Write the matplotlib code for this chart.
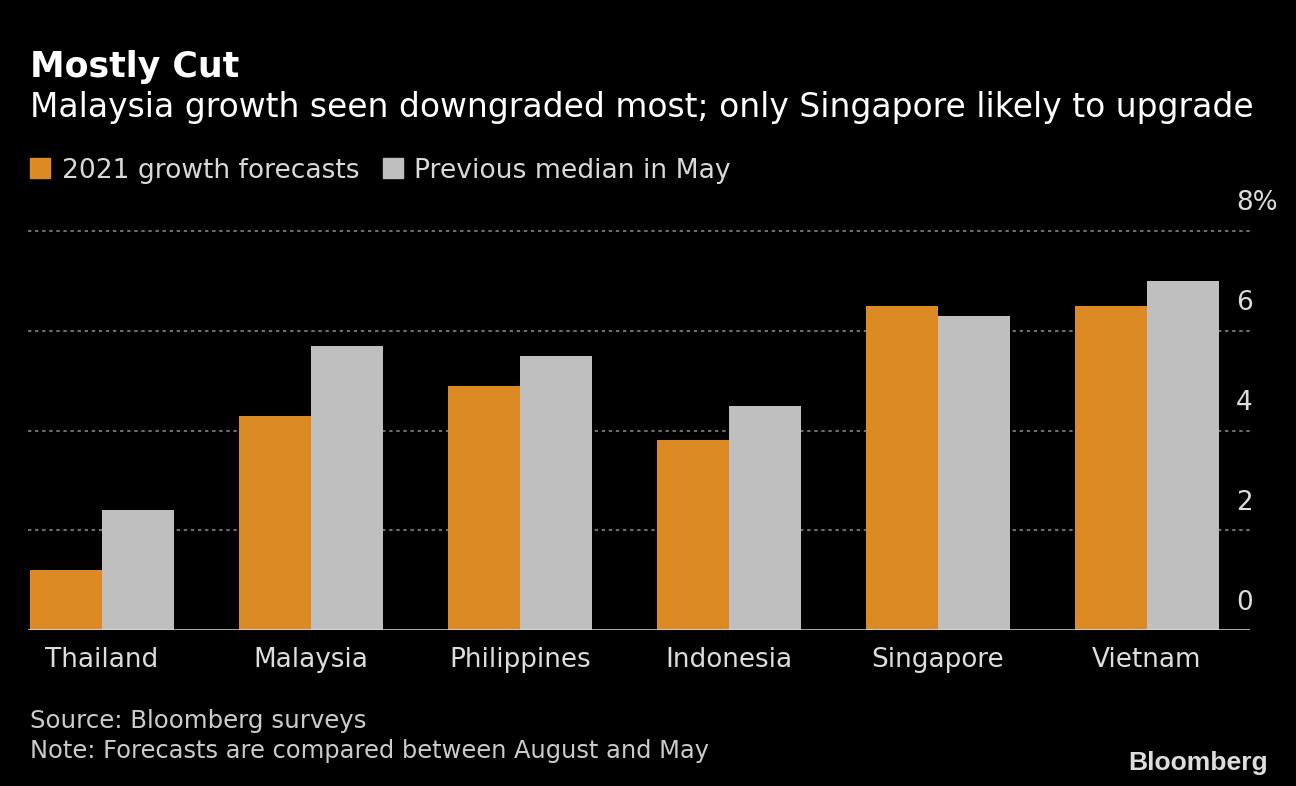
import matplotlib
matplotlib.use("Agg")
import matplotlib.pyplot as plt
from matplotlib.transforms import Affine2D
import numpy as np

countries = ["Thailand", "Malaysia", "Philippines", "Indonesia", "Singapore", "Vietnam"]
forecast_2021 = [1.2, 4.3, 4.9, 3.8, 6.5, 6.5]
previous_may = [2.4, 5.7, 5.5, 4.5, 6.3, 7.0]
y_ticks = [0, 2, 4, 6, 8]
y_tick_labels = ["0", "2", "4", "6", "8%"]

title = "Mostly Cut"
subtitle = "Malaysia growth seen downgraded most; only Singapore likely to upgrade"
legend_labels = ["2021 growth forecasts", "Previous median in May"]
source = "Source: Bloomberg surveys"
note = "Note: Forecasts are compared between August and May"

ORANGE = "#DB8A24"
GRAY = "#BFBFBF"
BG = "#000000"

W, H = 1296, 786
fig = plt.figure(figsize=(W / 100, H / 100), dpi=100, facecolor=BG)
FONT = "DejaVu Sans"

px = Affine2D().scale(1 / W, -1 / H).translate(0, 1) + fig.transFigure
renderer = fig.canvas.get_renderer()

def fit_text(x, y, s, target_w, size, ha="left", **kw):
    t = fig.text(x, y, s, transform=px, fontsize=size, family=FONT,
                 va="baseline", ha=ha, **kw)
    w = t.get_window_extent(renderer).width
    t.set_fontsize(size * target_w / w)
    return t

fit_text(30, 77, title, 210, 24, color="white", fontweight="bold")
fit_text(30, 117, subtitle, 1220, 20, color="white")
fig.patches.append(plt.Rectangle((30, 158), 20, 20, transform=px, color=ORANGE))
fit_text(62, 178, legend_labels[0], 298, 17, color="#d9d9d9")
fig.patches.append(plt.Rectangle((383, 158), 20, 20, transform=px, color=GRAY))
fit_text(414, 178, legend_labels[1], 317, 17, color="#d9d9d9")

fit_text(30, 728, source, 335, 16, color="#cccccc")
fit_text(30, 758, note, 680, 16, color="#cccccc")
t = fig.text(1268, 770, "Bloomberg", transform=px, fontsize=18, family="Liberation Sans",
             fontweight="bold", color="#dddddd", ha="right", va="baseline")
w = t.get_window_extent(renderer).width
t.set_fontsize(18 * 140 / w)

left, right, top, bottom = 28, 1250, 231, 630
ax = fig.add_axes([left / W, 1 - bottom / H, (right - left) / W, (bottom - top) / H])
ax.set_facecolor(BG)
x = np.arange(len(countries))
bw = 72 / 209
ax.bar(x - bw / 2, forecast_2021, width=bw, color=ORANGE, zorder=3)
ax.bar(x + bw / 2, previous_may, width=bw, color=GRAY, zorder=3)
ax.set_xlim(-74 / 209, 1148 / 209)
ax.set_ylim(0, 8)
for yv in y_ticks[1:]:
    ax.axhline(yv, color="#6e6e6e", lw=1.5, linestyle=(0, (1.6, 1.8)), zorder=1, clip_on=False)
ax.axhline(0, color="#dddddd", lw=1.8, zorder=4)
for s in ax.spines.values():
    s.set_visible(False)
ax.set_xticks([])
ax.set_yticks([])

# category labels (fit to measured width of "Thailand")
probe = fig.text(0, 0, countries[0], fontsize=18, family=FONT)
cat_size = 18 * 113 / probe.get_window_extent(renderer).width
probe.remove()
for i, c in enumerate(countries):
    xc = 102 + 209 * i
    fig.text(xc, 667, c, transform=px, ha="center", va="baseline",
             fontsize=cat_size, family=FONT, color="#dddddd")
for yv, lab in zip(y_ticks, y_tick_labels):
    fig.text(1236, bottom - yv * 50 - 20, lab, transform=px, ha="left", va="baseline",
             fontsize=cat_size, family=FONT, color="#dddddd")

fig.savefig("out.png", dpi=100, facecolor=BG)
